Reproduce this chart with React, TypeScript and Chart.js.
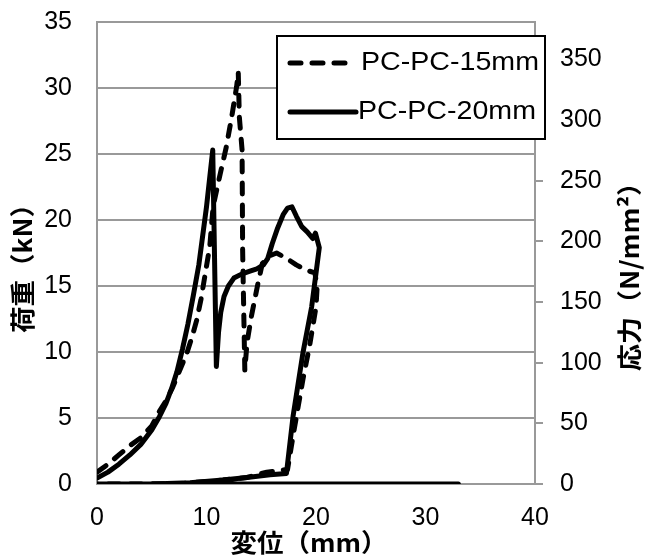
import React, { useEffect, useRef } from 'react';
import { Chart, registerables } from 'chart.js';

Chart.register(...registerables);

// Axis ranges / ticks
const xTickStep = 10;
const xMin = 0;
const xMax = 40;
const loadMin = 0;
const loadMax = 35;
const loadStep = 5;
const stressMin = 0;
const stressMax = 381;
const stressStep = 50;

// Series labels
const seriesNames = ['PC-PC-15mm', 'PC-PC-20mm'];

// PC-PC-15mm (dashed) : displacement (mm) / load (kN)
const pc15X = [0, 1, 2, 3, 4, 5, 5.7, 6.3, 6.9, 7.5, 8.2, 8.7, 9.1, 9.5, 9.8, 10.3, 10.6, 11.2, 11.8, 12.3, 12.75, 12.9, 13.0, 13.25, 13.3, 13.5, 13.7, 14.1, 14.7, 15.1, 15.8, 16.4, 17.3, 18.2, 19.1, 19.9, 20.1, 20.0, 19.4, 18.8, 18.0, 17.4, 15.5, 13.7, 11.5, 8.0, 4.0, 0];
const pc15Y = [0.9, 1.5, 2.2, 2.9, 3.5, 4.4, 5.5, 6.3, 7.3, 8.5, 9.9, 11.2, 12.4, 14.0, 15.5, 18.0, 21.0, 23.3, 25.5, 27.8, 30.1, 31.2, 27.8, 25.3, 17.7, 8.6, 10.7, 12.7, 15.2, 16.7, 17.3, 17.5, 17.1, 16.6, 16.2, 16.0, 14.9, 13.4, 10.4, 7.9, 4.1, 1.1, 0.9, 0.5, 0.3, 0.05, 0, 0];

// PC-PC-20mm (solid)
const pc20X = [0, 1, 2, 3, 4, 5, 5.7, 6.3, 6.8, 7.3, 7.8, 8.3, 8.8, 9.3, 10.0, 10.57, 10.9, 11.1, 11.3, 11.6, 12.0, 12.5, 13.2, 13.9, 14.6, 15.2, 15.6, 16.0, 16.5, 17.0, 17.4, 17.8, 18.2, 18.7, 19.2, 19.7, 19.95, 20.3, 19.6, 18.8, 17.9, 17.3, 15.8, 13.7, 11.5, 8.5, 5.0, 0, 33];
const pc20Y = [0.45, 0.9, 1.5, 2.2, 3.0, 4.1, 5.1, 6.1, 7.2, 8.5, 10.2, 12.1, 14.3, 16.6, 21.0, 25.3, 8.9, 11.5, 13.0, 14.2, 15.0, 15.6, 15.9, 16.1, 16.3, 16.6, 17.1, 18.2, 19.4, 20.4, 20.9, 21.0, 20.3, 19.5, 19.1, 18.6, 19.0, 17.9, 13.4, 9.9, 5.1, 0.8, 0.7, 0.5, 0.3, 0.1, 0, 0, 0];

const xTitle = '変位（mm）';
const leftTitle = '荷重（kN）';
const rightTitle = '応力（N/mm²）';

const toPoints = (xs: number[], ys: number[]) => xs.map((x, i) => ({ x, y: ys[i] }));

const GRID = '#999999';
const TICK_FONT = { family: '"Liberation Sans", Arial, sans-serif', size: 25 };
const TITLE_FONT = 'bold 25px "Noto Sans CJK JP", sans-serif';
const DASH = [11, 11];

const drawStretched = (ctx: CanvasRenderingContext2D, text: string, sx: number) => {
  ctx.save();
  ctx.scale(sx, 1);
  ctx.fillText(text, 0, 0);
  ctx.restore();
};

const zeroPad = (s: any) => {
  s.paddingTop = 0;
  s.paddingBottom = 0;
  s.paddingLeft = 0;
  s.paddingRight = 0;
};

const overlayPlugin = {
  id: 'overlay',
  afterDraw(chart: any) {
    const ctx = chart.ctx as CanvasRenderingContext2D;
    ctx.save();
    // titles
    ctx.fillStyle = '#000';
    ctx.font = TITLE_FONT;
    ctx.textAlign = 'center';
    ctx.textBaseline = 'middle';
    ctx.save();
    ctx.translate(309, 542);
    drawStretched(ctx, xTitle, 1.06);
    ctx.restore();
    ctx.save();
    ctx.translate(22, 262);
    ctx.rotate(-Math.PI / 2);
    drawStretched(ctx, leftTitle, 1.06);
    ctx.restore();
    ctx.save();
    ctx.translate(629, 270);
    ctx.rotate(-Math.PI / 2);
    drawStretched(ctx, rightTitle, 1.08);
    ctx.restore();

    // legend box
    const bx = 277, by = 36, bw = 268, bh = 103;
    ctx.fillStyle = '#fff';
    ctx.fillRect(bx, by, bw, bh);
    ctx.strokeStyle = '#000';
    ctx.lineWidth = 2;
    ctx.strokeRect(bx, by, bw, bh);

    ctx.lineWidth = 5;
    ctx.lineCap = 'round';
    ctx.strokeStyle = '#000';
    ctx.setLineDash(DASH);
    ctx.beginPath();
    ctx.moveTo(290, 63);
    ctx.lineTo(348, 63);
    ctx.stroke();
    ctx.setLineDash([]);
    ctx.beginPath();
    ctx.moveTo(290, 112);
    ctx.lineTo(356, 112);
    ctx.stroke();

    ctx.fillStyle = '#000';
    ctx.font = '26px "Liberation Sans", Arial, sans-serif';
    ctx.textAlign = 'left';
    ctx.textBaseline = 'middle';
    ctx.save();
    ctx.translate(361, 63);
    drawStretched(ctx, seriesNames[0], 1.1);
    ctx.restore();
    ctx.save();
    ctx.translate(358, 112);
    drawStretched(ctx, seriesNames[1], 1.1);
    ctx.restore();
    ctx.restore();
  },
};

export default function App() {
  const canvasRef = useRef<HTMLCanvasElement | null>(null);

  useEffect(() => {
    if (!canvasRef.current) return;
    const chart = new Chart(canvasRef.current, {
      type: 'line',
      data: {
        datasets: [
          {
            label: seriesNames[0],
            data: toPoints(pc15X, pc15Y),
            borderColor: '#000',
            borderWidth: 5,
            borderDash: DASH,
            borderCapStyle: 'round',
            borderJoinStyle: 'round',
            pointRadius: 0,
            fill: false,
            tension: 0,
            yAxisID: 'y',
          },
          {
            label: seriesNames[1],
            data: toPoints(pc20X, pc20Y),
            borderColor: '#000',
            borderWidth: 5,
            borderCapStyle: 'round',
            borderJoinStyle: 'round',
            pointRadius: 0,
            fill: false,
            tension: 0,
            yAxisID: 'y',
          },
        ],
      },
      options: {
        responsive: false,
        animation: false,
        layout: { padding: { top: 22, left: 0, right: 0, bottom: 0 } },
        plugins: { legend: { display: false }, tooltip: { enabled: false } },
        scales: {
          x: {
            type: 'linear',
            min: xMin,
            max: xMax,
            ticks: { stepSize: xTickStep, color: '#000', font: TICK_FONT, padding: 19, maxRotation: 0 },
            grid: { display: false, drawTicks: false },
            border: { display: true, color: GRID, width: 2 },
            afterFit: (s: any) => { s.height = 73; zeroPad(s); },
          },
          y: {
            position: 'left',
            min: loadMin,
            max: loadMax,
            ticks: { stepSize: loadStep, color: '#000', font: TICK_FONT, padding: 25 },
            grid: { color: GRID, lineWidth: 2, drawTicks: false },
            border: { display: true, color: GRID, width: 2 },
            afterFit: (s: any) => { s.width = 97; zeroPad(s); },
          },
          y1: {
            position: 'right',
            min: stressMin,
            max: stressMax,
            ticks: { stepSize: stressStep, includeBounds: false, color: '#000', font: TICK_FONT, padding: 17 },
            grid: { drawOnChartArea: false, drawTicks: true, tickLength: 8, color: GRID, lineWidth: 2 },
            border: { display: true, color: GRID, width: 2 },
            afterFit: (s: any) => { s.width = 110; zeroPad(s); },
          },
        },
      } as any,
      plugins: [overlayPlugin],
    });
    return () => chart.destroy();
  }, []);

  return (
    <div style={{ position: 'absolute', left: 0, top: 0, width: 645, height: 557, background: '#fff' }}>
      <canvas ref={canvasRef} width={645} height={557} />
    </div>
  );
}
